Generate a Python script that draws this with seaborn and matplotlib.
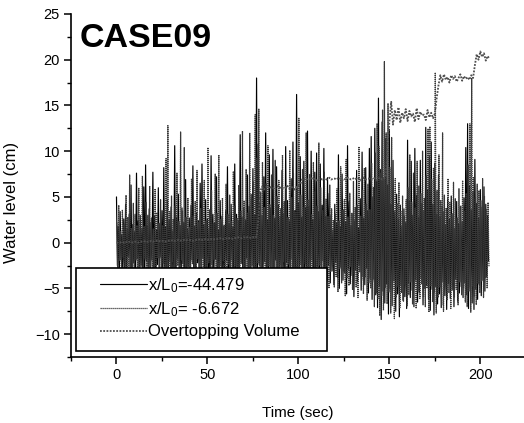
import numpy as np
import pandas as pd
import matplotlib
matplotlib.use("Agg")
import matplotlib.pyplot as plt
import seaborn as sns
from matplotlib.patches import Rectangle
from matplotlib.ticker import MultipleLocator

sns.set_style("ticks")
plt.rcParams["font.family"] = ["Liberation Sans", "DejaVu Sans"]
plt.rcParams["mathtext.fontset"] = "custom"
plt.rcParams["mathtext.rm"] = "Liberation Sans"
plt.rcParams["mathtext.it"] = "Liberation Sans"
for key in ["text.color", "axes.labelcolor", "xtick.color", "ytick.color"]:
    plt.rcParams[key] = "black"

# wave gauge x/L0=-44.479 (black), crest / trough per second
crest_1 = [
    5.0, 1.8, 3.4, 0.9, 2.6, 4.2, 1.5, 3.1, 6.3, 2.0,
    1.2, 7.6, 2.4, 3.0, 1.6, 6.1, 8.5, 1.9, 3.7, 2.2,
    7.7, 2.9, 1.4, 6.0, 2.1, 3.5, 8.2, 1.7, 4.6, 2.5,
    3.9, 1.3, 10.6, 2.8, 5.3, 1.9, 3.8, 2.2, 6.9, 1.5,
    2.7, 4.1, 8.4, 1.8, 3.3, 2.4, 6.5, 8.6, 2.0, 4.7,
    2.6, 1.6, 9.5, 3.1, 2.2, 7.2, 1.4, 4.6, 2.9, 1.8,
    3.5, 8.3, 2.0, 4.2, 1.7, 8.6, 3.1, 2.4, 11.8, 2.8,
    3.8, 2.5, 7.4, 4.0, 5.3, 8.1, 3.0, 18.0, 10.8, 4.4,
    3.0, 7.2, 12.0, 2.5, 9.6, 3.8, 10.2, 2.7, 8.3, 4.1,
    2.9, 7.9, 3.2, 10.5, 4.6, 2.4, 7.0, 11.0, 3.5, 16.2,
    4.3, 9.4, 2.8, 8.9, 3.9, 12.2, 4.0, 10.0, 2.5, 7.7,
    9.8, 3.4, 8.6, 4.1, 10.3, 2.9, 7.1, 5.4, 3.0, 1.4,
    4.2, 2.1, 9.6, 1.8, 7.5, 3.6, 2.3, 10.6, 4.5, 1.9,
    3.2, 2.4, 7.9, 1.6, 4.8, 9.9, 2.7, 8.2, 3.5, 10.3,
    11.6, 5.0, 12.5, 6.8, 15.8, 8.0, 13.2, 7.1, 11.4, 6.3,
    12.4, 4.2, 9.0, 3.4, 5.3, 2.6, 4.1, 1.8, 3.7, 2.2,
    11.2, 4.6, 8.9, 3.0, 10.3, 5.2, 2.8, 9.0, 4.3, 3.5,
    12.6, 5.8, 9.4, 11.0, 4.2, 8.7, 3.1, 7.4, 2.9, 4.0,
    3.4, 1.9, 4.8, 2.6, 5.1, 3.2, 1.6, 4.5, 2.1, 3.9,
    2.3, 4.9, 10.4, 13.0, 6.2, 3.6, 5.5, 9.1, 4.3, 2.7,
    5.8, 3.9, 6.1, 4.2, 3.0,
]
trough_1 = [
    -2.5, -4.1, -1.8, -3.6, -2.9, -4.5, -1.5, -3.2, -4.8, -2.2,
    -3.9, -1.7, -4.4, -2.6, -3.4, -5.0, -2.0, -3.7, -4.2, -1.9,
    -3.1, -4.6, -2.4, -3.8, -1.6, -4.3, -2.8, -5.1, -3.3, -2.1,
    -4.0, -2.7, -4.9, -1.8, -3.5, -4.4, -2.3, -3.9, -5.2, -2.6,
    -3.6, -1.9, -4.5, -3.0, -2.2, -4.8, -3.4, -1.7, -4.1, -2.9,
    -3.7, -5.0, -2.4, -3.9, -1.8, -4.6, -3.1, -2.5, -4.3, -3.5,
    -2.0, -4.7, -3.3, -1.9, -4.2, -2.8, -5.3, -3.6, -2.3, -4.4,
    -3.0, -1.7, -4.9, -3.8, -2.6, -4.1, -3.2, -5.4, -2.4, -3.7,
    -4.5, -2.1, -3.9, -5.0, -2.7, -3.4, -4.6, -1.9, -3.1, -4.8,
    -2.5, -3.8, -5.2, -2.2, -4.0, -3.3, -1.8, -4.7, -3.6, -2.9,
    -4.3, -2.4, -3.7, -5.1, -2.8, -4.2, -3.0, -1.9, -4.9, -3.5,
    -2.6, -4.4, -3.2, -2.0, -4.8, -3.9, -2.5, -4.4, -3.1, -4.6,
    -2.2, -3.8, -5.0, -2.7, -4.1, -3.3, -5.6, -2.9, -4.5, -3.6,
    -5.9, -3.0, -4.3, -2.5, -5.2, -3.7, -4.6, -2.8, -5.5, -3.9,
    -6.2, -4.0, -5.7, -7.1, -4.8, -8.4, -5.3, -6.6, -4.5, -7.8,
    -5.0, -6.9, -4.2, -7.5, -5.6, -8.1, -4.7, -6.3, -5.9, -7.2,
    -4.4, -6.0, -5.2, -7.0, -4.1, -6.5, -5.5, -3.9, -6.8, -5.0,
    -4.6, -6.2, -7.4, -5.1, -7.9, -4.8, -6.7, -5.6, -7.1, -4.3,
    -5.8, -7.3, -4.5, -6.1, -5.2, -7.0, -4.0, -6.4, -5.5, -4.8,
    -6.0, -4.4, -5.7, -7.2, -4.9, -6.6, -7.3, -5.1, -6.2, -4.6,
    -5.8, -4.1, -5.3, -3.7, -2.0,
]

# wave gauge x/L0=-6.672 (grey dotted)
crest_2 = [
    2.2, 4.1, 1.3, 3.6, 2.0, 5.2, 2.8, 7.4, 1.6, 4.3,
    3.1, 1.9, 6.0, 2.5, 7.3, 1.8, 4.4, 3.0, 6.2, 2.7,
    1.5, 5.9, 3.3, 2.1, 4.7, 1.9, 3.6, 9.2, 12.8, 3.4,
    5.1, 2.6, 4.0, 7.6, 2.3, 12.1, 3.5, 10.4, 2.8, 4.9,
    1.7, 7.0, 2.9, 4.5, 7.9, 2.2, 3.8, 5.6, 6.8, 2.4,
    10.4, 3.6, 5.7, 2.1, 7.5, 3.2, 9.6, 2.6, 4.9, 1.9,
    6.4, 3.1, 5.2, 2.4, 7.8, 4.0, 2.7, 6.3, 3.5, 12.2,
    4.6, 8.0, 3.3, 12.0, 4.9, 6.7, 14.0, 9.2, 14.6, 5.5,
    8.8, 3.9, 6.5, 10.6, 4.2, 7.4, 3.0, 9.0, 5.1, 6.8,
    3.7, 9.6, 4.5, 6.2, 2.8, 10.1, 5.0, 7.6, 3.4, 6.0,
    13.6, 5.2, 8.0, 3.9, 12.0, 4.7, 7.5, 3.1, 8.8, 5.6,
    4.0, 10.9, 6.0, 3.5, 7.7, 4.8, 2.9, 6.3, 3.7, 2.5,
    3.1, 5.9, 2.4, 8.3, 3.6, 4.7, 9.1, 2.8, 5.4, 3.2,
    6.7, 3.9, 4.1, 10.5, 2.9, 5.8, 8.1, 4.2, 6.4, 3.6,
    8.7, 6.1, 9.8, 13.0, 10.5, 7.6, 14.5, 19.8, 12.0, 15.2,
    8.2, 11.5, 5.7, 7.0, 4.3, 6.6, 3.5, 5.1, 2.9, 4.7,
    6.0, 9.6, 4.4, 7.6, 3.8, 8.9, 6.2, 5.4, 10.0, 4.9,
    7.3, 12.4, 12.7, 6.9, 8.2, 18.6, 5.7, 9.6, 4.6, 12.0,
    5.2, 3.8, 7.0, 4.4, 3.1, 6.6, 4.8, 2.7, 5.9, 4.0,
    6.8, 3.5, 5.4, 8.5, 13.0, 18.0, 7.1, 4.9, 6.4, 5.7,
    4.6, 7.0, 5.1, 3.6, 4.4,
]
trough_2 = [
    -3.4, -2.0, -4.3, -1.6, -3.8, -2.7, -4.9, -2.2, -3.1, -4.0,
    -1.9, -3.5, -4.7, -2.4, -3.0, -1.8, -4.5, -3.3, -2.6, -4.8,
    -2.9, -3.7, -1.7, -4.2, -3.6, -2.3, -5.0, -2.8, -3.9, -4.4,
    -2.1, -3.2, -4.6, -2.5, -3.8, -1.9, -4.1, -5.3, -2.7, -3.4,
    -4.7, -2.3, -3.5, -4.0, -1.8, -3.1, -5.0, -2.6, -3.9, -4.3,
    -2.2, -3.6, -4.8, -1.9, -3.3, -2.7, -4.5, -3.8, -2.0, -4.9,
    -3.4, -2.4, -4.1, -3.0, -5.2, -2.6, -3.7, -4.6, -2.1, -3.5,
    -4.4, -2.9, -3.3, -5.1, -2.5, -4.0, -3.6, -2.2, -4.8, -3.1,
    -2.3, -4.6, -3.0, -2.6, -4.2, -5.0, -3.4, -2.8, -4.4, -3.6,
    -3.9, -2.1, -4.3, -3.7, -2.4, -4.9, -3.2, -2.7, -4.5, -3.8,
    -2.6, -4.0, -3.1, -2.3, -4.7, -3.5, -5.2, -2.9, -3.6, -4.1,
    -3.3, -2.5, -4.6, -3.8, -2.7, -4.2, -5.0, -3.2, -2.4, -4.9,
    -3.7, -5.4, -2.8, -4.4, -3.1, -5.8, -3.9, -4.7, -2.6, -5.1,
    -3.4, -4.9, -6.0, -3.2, -4.1, -5.6, -3.8, -6.3, -4.4, -5.0,
    -4.3, -7.0, -5.5, -6.1, -8.0, -5.8, -7.4, -4.9, -6.7, -5.4,
    -7.7, -5.2, -8.3, -6.0, -4.8, -7.1, -5.5, -6.4, -4.6, -6.9,
    -5.7, -4.3, -6.7, -4.9, -7.2, -5.3, -6.1, -4.5, -5.9, -7.0,
    -5.0, -7.6, -4.7, -6.5, -5.4, -7.7, -6.0, -4.9, -6.8, -7.5,
    -4.7, -6.3, -5.5, -7.2, -4.4, -6.0, -5.1, -6.8, -4.3, -5.7,
    -4.9, -6.5, -7.0, -5.3, -7.6, -4.8, -5.9, -6.8, -4.5, -5.5,
    -4.2, -6.0, -3.8, -5.0, -2.6,
]

# overtopping volume, one value per second from t=0 to t=205
overtop = [
    0.0, 0.0, 0.0, 0.1, 0.0, 0.1, 0.0, 0.1, 0.1, 0.0,
    0.1, 0.1, 0.0, 0.1, 0.1, 0.1, 0.2, 0.1, 0.1, 0.2,
    0.1, 0.2, 0.2, 0.1, 0.2, 0.2, 0.2, 0.1, 0.2, 0.2,
    0.2, 0.3, 0.2, 0.2, 0.3, 0.2, 0.3, 0.3, 0.2, 0.3,
    0.3, 0.3, 0.2, 0.3, 0.3, 0.3, 0.4, 0.3, 0.3, 0.4,
    0.3, 0.4, 0.4, 0.3, 0.4, 0.4, 0.4, 0.5, 0.4, 0.4,
    0.5, 0.4, 0.5, 0.5, 0.4, 0.5, 0.5, 0.6, 0.5, 0.5,
    0.6, 0.5, 0.6, 0.6, 0.5, 0.6, 0.7, 0.6, 2.5, 5.6,
    6.1, 5.8, 6.0, 6.2, 5.9, 6.1, 6.0, 5.8, 6.1, 6.2,
    6.0, 5.9, 6.1, 6.0, 6.2, 5.9, 6.1, 6.0, 5.8, 6.1,
    6.2, 6.4, 6.9, 7.0, 6.8, 7.0, 6.9, 7.1, 6.9, 7.0,
    6.8, 7.0, 7.1, 6.9, 7.0, 6.8, 7.0, 7.1, 6.9, 7.0,
    7.0, 6.9, 7.1, 7.0, 6.8, 7.0, 6.9, 7.1, 7.0, 6.9,
    7.0, 7.1, 6.9, 7.0, 6.8, 7.0, 7.1, 6.9, 7.0, 7.0,
    6.9, 7.1, 7.0, 6.8, 7.0, 7.1, 6.9, 7.0, 7.2, 10.5,
    13.2, 15.4, 12.9, 14.5, 13.4, 14.8, 13.1, 14.2, 13.6, 14.6,
    13.3, 14.4, 13.8, 14.1, 13.2, 14.7, 13.5, 14.3, 13.9, 14.0,
    13.4, 14.5, 13.7, 14.2, 13.6, 14.1, 15.8, 17.2, 18.3, 17.6,
    18.4, 17.8, 18.1, 17.5, 18.3, 17.9, 18.2, 17.6, 18.0, 18.4,
    17.7, 18.2, 17.9, 18.1, 17.8, 18.3, 18.0, 19.4, 20.6, 20.0,
    20.9, 20.3, 20.7, 19.9, 20.4, 20.1,
]

labels = [r"x/L$_0$=-44.479", r"x/L$_0$= -6.672", "Overtopping Volume"]

# crests on the whole second, troughs half a second later
n = len(crest_1)
t1 = np.column_stack([np.arange(n), np.arange(n) + 0.5]).ravel()
y1 = np.column_stack([crest_1, trough_1]).ravel()
t2 = np.column_stack([np.arange(n) + 0.25, np.arange(n) + 0.75]).ravel()
y2 = np.column_stack([crest_2, trough_2]).ravel()
df1 = pd.DataFrame({"t": t1, "y": y1})
df2 = pd.DataFrame({"t": t2, "y": y2})
df3 = pd.DataFrame({"t": np.arange(len(overtop)), "y": overtop})

fig = plt.figure(figsize=(5.24, 4.23), dpi=100)
ax = fig.add_axes([0.1355, 0.156, 0.8645, 0.811])

sns.lineplot(data=df1, x="t", y="y", ax=ax, color="black", lw=0.85,
             estimator=None, label=labels[0])
sns.lineplot(data=df2, x="t", y="y", ax=ax, color="#383838", lw=0.9,
             linestyle=(0, (1, 0.6)), estimator=None, label=labels[1])
sns.lineplot(data=df3, x="t", y="y", ax=ax, color="#505050", lw=1.3,
             linestyle=(0, (1, 0.8)), estimator=None, label=labels[2])

ax.set_xlim(-25, 224)
ax.set_ylim(-12.5, 25)
ax.xaxis.set_major_locator(MultipleLocator(50))
ax.xaxis.set_minor_locator(MultipleLocator(25))
ax.yaxis.set_major_locator(MultipleLocator(5))
ax.yaxis.set_minor_locator(MultipleLocator(2.5))
ax.tick_params(which="major", direction="out", length=5, width=1.1,
               labelsize=10.5, color="black", pad=3)
ax.tick_params(which="minor", direction="out", length=3, width=1.0, color="black")
sns.despine(ax=ax)
for s in ["left", "bottom"]:
    ax.spines[s].set_linewidth(1.2)
    ax.spines[s].set_color("black")

ax.set_xlabel("Time (sec)", fontsize=11, labelpad=17)
ax.set_ylabel("Water level (cm)", fontsize=12)
ax.yaxis.set_label_coords(-0.115, 0.45)

ax.text(0.02, 0.975, "CASE09", transform=ax.transAxes, fontsize=24.5,
        fontweight="bold", va="top", ha="left", color="black")

# legend box drawn separately so its size matches the original
ax.add_patch(Rectangle((0.011, 0.0175), 0.555, 0.2415, transform=ax.transAxes,
                       facecolor="white", edgecolor="black", lw=1.2, zorder=4))
leg = ax.legend(loc="upper left", bbox_to_anchor=(0.064, 0.236), frameon=False,
                fontsize=12, handlelength=2.8, handletextpad=0.1,
                labelspacing=0.33, borderpad=0, borderaxespad=0)
leg.set_zorder(5)

fig.savefig("out.png", dpi=100)
